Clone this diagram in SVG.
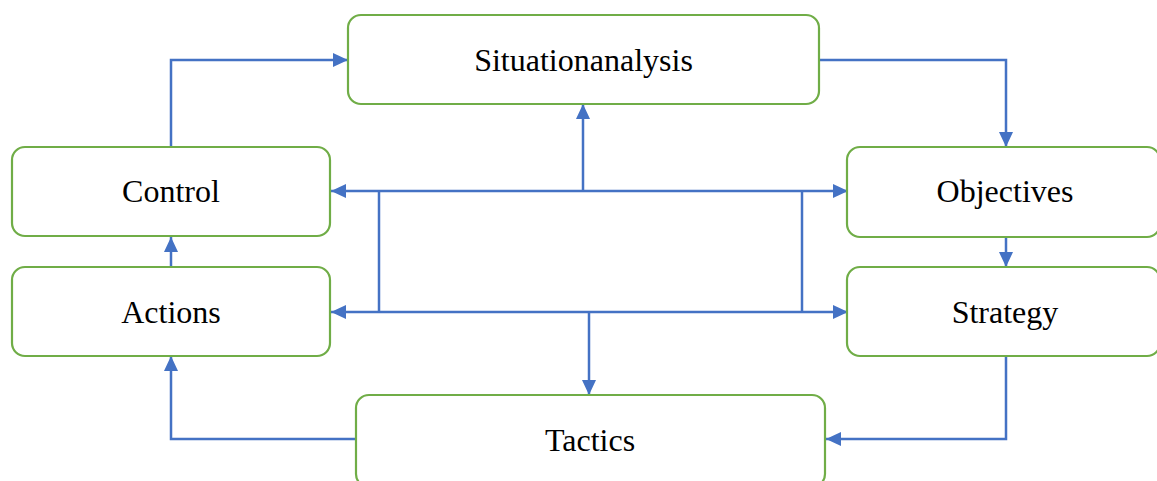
<svg xmlns="http://www.w3.org/2000/svg" width="1157" height="481" viewBox="0 0 1157 481">
<defs>
<marker id="arr" markerUnits="userSpaceOnUse" markerWidth="16" markerHeight="16" viewBox="0 0 16 16" refX="15" refY="8" orient="auto">
<path d="M0,1 L15,8 L0,15 Z" fill="#4472C4"/>
</marker>
<style>
.box{fill:#fff;stroke:#70AD47;stroke-width:2.2}
.lbl{font-family:"Liberation Serif","Times New Roman",serif;font-size:32px;fill:#000;text-anchor:middle}
.c{fill:none;stroke:#4472C4;stroke-width:2.5}
</style>
</defs>
<rect width="1157" height="481" fill="#fff"/>
<g id="connectors">
<path class="c" d="M171,147 V60 H348" marker-end="url(#arr)"/>
<path class="c" d="M819,60 H1006 V147" marker-end="url(#arr)"/>
<path class="c" d="M1006,237 V267" marker-end="url(#arr)"/>
<path class="c" d="M1006,356 V439 H826" marker-end="url(#arr)"/>
<path class="c" d="M356,439 H171 V356" marker-end="url(#arr)"/>
<path class="c" d="M171,267 V237" marker-end="url(#arr)"/>
<path class="c" d="M583,191 H331" marker-end="url(#arr)"/>
<path class="c" d="M583,191 H848" marker-end="url(#arr)"/>
<path class="c" d="M583,191 V104" marker-end="url(#arr)"/>
<path class="c" d="M589,312 H331" marker-end="url(#arr)"/>
<path class="c" d="M589,312 H848" marker-end="url(#arr)"/>
<path class="c" d="M589,312 V395" marker-end="url(#arr)"/>
<path class="c" d="M379,191 V312"/>
<path class="c" d="M802,191 V312"/>
</g>
<g id="situationanalysis">
<rect class="box" x="348" y="15" width="471" height="89" rx="13"/>
<text class="lbl" x="583.5" y="71">Situationanalysis</text>
</g>
<g id="control">
<rect class="box" x="12" y="147" width="318" height="89" rx="13"/>
<text class="lbl" x="171" y="202">Control</text>
</g>
<g id="actions">
<rect class="box" x="12" y="267" width="318" height="89" rx="13"/>
<text class="lbl" x="171" y="323">Actions</text>
</g>
<g id="objectives">
<rect class="box" x="847" y="147" width="313" height="90" rx="13"/>
<text class="lbl" x="1005" y="202">Objectives</text>
</g>
<g id="strategy">
<rect class="box" x="847" y="267" width="313" height="89" rx="13"/>
<text class="lbl" x="1005" y="323">Strategy</text>
</g>
<g id="tactics">
<rect class="box" x="356" y="395" width="469" height="92" rx="13"/>
<text class="lbl" x="590" y="451">Tactics</text>
</g>
</svg>
